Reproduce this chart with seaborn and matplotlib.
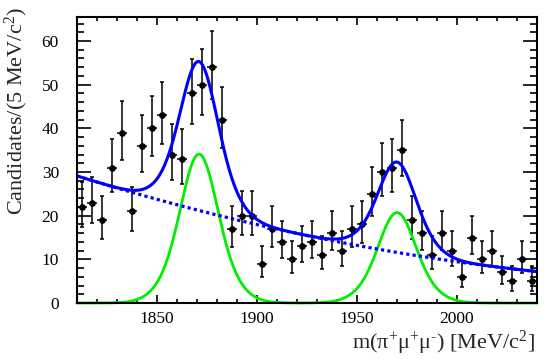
import numpy as np
import pandas as pd
import matplotlib
matplotlib.use("Agg")
import matplotlib.pyplot as plt
from matplotlib.ticker import MultipleLocator
import seaborn as sns

# histogram bins (5 MeV/c^2 wide) and candidate counts
bin_centers = [1812.5, 1817.5, 1822.5, 1827.5, 1832.5, 1837.5, 1842.5, 1847.5,
               1852.5, 1857.5, 1862.5, 1867.5, 1872.5, 1877.5, 1882.5, 1887.5,
               1892.5, 1897.5, 1902.5, 1907.5, 1912.5, 1917.5, 1922.5, 1927.5,
               1932.5, 1937.5, 1942.5, 1947.5, 1952.5, 1957.5, 1962.5, 1967.5,
               1972.5, 1977.5, 1982.5, 1987.5, 1992.5, 1997.5, 2002.5, 2007.5,
               2012.5, 2017.5, 2022.5, 2027.5, 2032.5, 2037.5]
counts = [22, 23, 19, 31, 39, 21, 36, 40, 43, 34, 33, 48, 50, 54, 42, 17,
          20, 20, 9, 17, 14, 10, 13, 14, 11, 16, 12, 17, 18, 25, 30, 31,
          35, 19, 16, 11, 16, 12, 6, 15, 10, 12, 7, 5, 10, 5]
half_bin = 2.5

# fit model parameters (background polynomial + two double-gaussian peaks)
bkg_coef = [29.1, -0.14215, 0.000204]   # in (m - 1810)
peak_means = [1871.0, 1970.0]
peak_heights = [34.1, 20.7]
core_frac, core_sigma, wide_sigma = 0.5, 8.0, 12.5

x_ticks = [1850, 1900, 1950, 2000]
y_ticks = [0, 10, 20, 30, 40, 50, 60]


def background(m):
    t = m - 1810.0
    return bkg_coef[0] + bkg_coef[1] * t + bkg_coef[2] * t ** 2


def peak(m, mu, h):
    d = m - mu
    return h * (core_frac * np.exp(-0.5 * (d / core_sigma) ** 2)
                + (1 - core_frac) * np.exp(-0.5 * (d / wide_sigma) ** 2))


mass = np.linspace(1810, 2040, 600)
sig = sum(peak(mass, mu, h) for mu, h in zip(peak_means, peak_heights))
bkg = background(mass)
curves = pd.DataFrame({"mass": mass, "signal": sig, "background": bkg,
                       "total": sig + bkg})

n = np.array(counts, dtype=float)
err_lo = np.sqrt(n - 0.25)
err_hi = 1.0 + np.sqrt(n + 0.75)

sns.set_theme(style="ticks")
plt.rcParams["font.family"] = ["Liberation Serif", "DejaVu Serif"]
plt.rcParams["mathtext.fontset"] = "custom"
plt.rcParams["mathtext.rm"] = "Liberation Serif"
plt.rcParams["mathtext.it"] = "Liberation Serif:italic"

fig = plt.figure(figsize=(5.59, 3.59), dpi=100)
ax = fig.add_axes([77 / 559, 56 / 359, 460 / 559, 286 / 359])

ax.errorbar(bin_centers, counts, xerr=half_bin, fmt="none", ecolor="black",
            elinewidth=1.1, capsize=0, zorder=2)
ax.errorbar(bin_centers, counts, yerr=[err_lo, err_hi], fmt="o", color="black",
            ms=3.8, elinewidth=1.1, capsize=1.5, capthick=1.1, zorder=3)

sns.lineplot(data=curves, x="mass", y="signal", color="#00ee00", lw=2.0,
             ax=ax, zorder=4, clip_on=False)
sns.lineplot(data=curves, x="mass", y="background", color="#0000ff", lw=2.3,
             ls=(0, (1, 1)), ax=ax, zorder=4)
sns.lineplot(data=curves, x="mass", y="total", color="#0000ff", lw=2.2,
             ax=ax, zorder=5)

ax.set_xlim(1810, 2040)
ax.set_ylim(0, 65.5)
ax.set_xticks(x_ticks)
ax.set_yticks(y_ticks)
ax.xaxis.set_minor_locator(MultipleLocator(10))
ax.yaxis.set_minor_locator(MultipleLocator(2))
ax.tick_params(which="both", direction="in", top=True, right=True,
               colors="black", width=1.2, labelsize=12.5)
ax.tick_params(axis="x", which="major", length=5.8, pad=6)
ax.tick_params(axis="x", which="minor", length=2.9)
ax.tick_params(axis="y", which="major", length=10, pad=13)
ax.tick_params(axis="y", which="minor", length=5)
for s in ax.spines.values():
    s.set_linewidth(1.5)
    s.set_color("black")
    s.set_zorder(6)

ax.set_xlabel("m(π$^{+}$μ$^{+}$μ$^{\u2010}$) [MeV/c$^{2}$]", fontsize=16,
              ha="right", va="top")
ax.xaxis.set_label_coords(458 / 460, -26 / 286)
ax.set_ylabel(r"Candidates/(5 MeV/c$^{2}$)", fontsize=16, ha="right",
              va="bottom")
ax.yaxis.set_label_coords(-47 / 460, 296 / 286)

fig.savefig("out.png", dpi=100)
